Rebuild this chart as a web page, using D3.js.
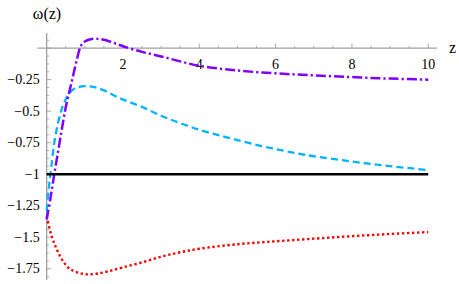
<!DOCTYPE html>
<html>
<head>
<meta charset="utf-8">
<script src="https://cdn.jsdelivr.net/npm/d3@7"></script>
<style>
body{margin:0;background:#fff;}
svg{display:block;}
</style>
</head>
<body>
<svg id="chart" width="459" height="284"></svg>
<script>
// datos
var zPurple = [0,0.1,0.2,0.3,0.4,0.5,0.6,0.7,0.8,0.9,1.0,1.15,1.3,1.5,1.75,2.0,2.5,3,3.5,4,5,6,7,8,9,10];
var wPurple = [-1.36,-1.19,-1.0,-0.82,-0.64,-0.47,-0.34,-0.21,-0.08,0.02,0.052,0.07,0.074,0.066,0.042,0.015,-0.03,-0.066,-0.105,-0.14,-0.178,-0.2,-0.216,-0.23,-0.242,-0.25];

var zCyan = [0,0.05,0.1,0.2,0.3,0.4,0.5,0.6,0.75,1.0,1.25,1.5,1.92,2.45,3,3.5,4,4.5,5,5.6,6.1,6.6,7,8,9,10];
var wCyan = [-1.29,-1.13,-1.0,-0.75,-0.59,-0.48,-0.405,-0.355,-0.318,-0.302,-0.31,-0.335,-0.398,-0.46,-0.537,-0.595,-0.648,-0.69,-0.73,-0.775,-0.807,-0.838,-0.858,-0.9,-0.936,-0.968];

var zRed = [0,0.1,0.2,0.3,0.45,0.6,0.8,1.05,1.3,1.6,2,2.5,3,3.5,4,5,6,7,8,9,10];
var wRed = [-1.335,-1.46,-1.55,-1.62,-1.70,-1.75,-1.78,-1.795,-1.79,-1.772,-1.74,-1.70,-1.655,-1.62,-1.592,-1.556,-1.533,-1.512,-1.492,-1.475,-1.46];

var zBlack = [0,10];
var wBlack = [-1,-1];

var xTicks = [2,4,6,8,10];
var yTicks = [-0.25,-0.5,-0.75,-1,-1.25,-1.5,-1.75];

var FONT = "Liberation Serif";

function zip(xs,ys){
	var out = [];
	for(var i=0;i<xs.length;i++){ out.push({key: xs[i], value: ys[i]}); }
	return out;
}

var svg = d3.select("#chart");
var sx = d3.scaleLinear().domain([-0.24,10.23]).range([37.5,437]);
var sy = d3.scaleLinear().domain([-1.84,0.12]).range([280,33]);
var axisCol = "#a0a0a0";

// eje x
var gx = svg.append("g").attr("transform","translate(0,"+sy(0)+")");
gx.append("line").attr("x1",sx.range()[0]).attr("x2",sx.range()[1])
	.attr("stroke",axisCol).attr("stroke-width",1.3);
var xMinor = d3.range(0.5,10.01,0.5).filter(function(d){return d%2 != 0;});
gx.selectAll(".xmin").data(xMinor).enter().append("line")
	.attr("x1",sx).attr("x2",sx).attr("y1",0).attr("y2",-2.5)
	.attr("stroke",axisCol).attr("stroke-width",0.8);
gx.selectAll(".xmaj").data(xTicks).enter().append("line")
	.attr("x1",sx).attr("x2",sx).attr("y1",0).attr("y2",-4.5)
	.attr("stroke",axisCol).attr("stroke-width",0.9);
gx.selectAll(".xl").data(xTicks).enter().append("text")
	.attr("font-family",FONT).attr("x",sx).attr("y",21)
	.attr("text-anchor","middle").attr("font-size",14)
	.text(function(d){return d;});
svg.append("text").attr("font-family",FONT).attr("x",449).attr("y",53)
	.attr("font-size",16).text("z");

// eje y
var gy = svg.append("g").attr("transform","translate("+sx(0)+",0)");
gy.append("line").attr("y1",sy.range()[0]).attr("y2",sy.range()[1])
	.attr("stroke",axisCol).attr("stroke-width",1.3);
var yMinor = d3.range(-1.8125,0.12,0.0625).filter(function(d){return Math.abs(d*4 - Math.round(d*4)) > 0.01;});
gy.selectAll(".ymin").data(yMinor).enter().append("line")
	.attr("y1",sy).attr("y2",sy).attr("x1",0).attr("x2",2.5)
	.attr("stroke",axisCol).attr("stroke-width",0.8);
gy.selectAll(".ymaj").data(yTicks.concat([0])).enter().append("line")
	.attr("y1",sy).attr("y2",sy).attr("x1",0).attr("x2",4.5)
	.attr("stroke",axisCol).attr("stroke-width",0.9);
gy.selectAll(".yl").data(yTicks).enter().append("text")
	.attr("font-family",FONT).attr("x",-7).attr("y",function(d){return sy(d)+4.5;})
	.attr("text-anchor","end").attr("font-size",14)
	.text(function(d){return "\u2212" + Math.abs(d);});
svg.append("text").attr("font-family",FONT).attr("x",47).attr("y",19)
	.attr("text-anchor","middle").attr("font-size",16).text("\u03c9(z)");

// curvas
var line = d3.line()
	.x(function(d){return sx(d.key);})
	.y(function(d){return sy(d.value);})
	.curve(d3.curveCatmullRom.alpha(0.5));

var series = [
	{d: zip(zRed,wRed), col: "#ff0000", w: 2.4, dash: "2.4,2.6"},
	{d: zip(zCyan,wCyan), col: "#00b3ff", w: 2.3, dash: "7,4"},
	{d: zip(zPurple,wPurple), col: "#7f00ff", w: 2.5, dash: "10,3,2.2,3"},
	{d: zip(zBlack,wBlack), col: "#000000", w: 2.5, dash: null}
];

series.forEach(function(s){
	svg.append("path").datum(s.d)
		.attr("d",line)
		.attr("fill","none")
		.attr("stroke",s.col)
		.attr("stroke-width",s.w)
		.attr("stroke-dasharray",s.dash);
});
</script>
</body>
</html>
